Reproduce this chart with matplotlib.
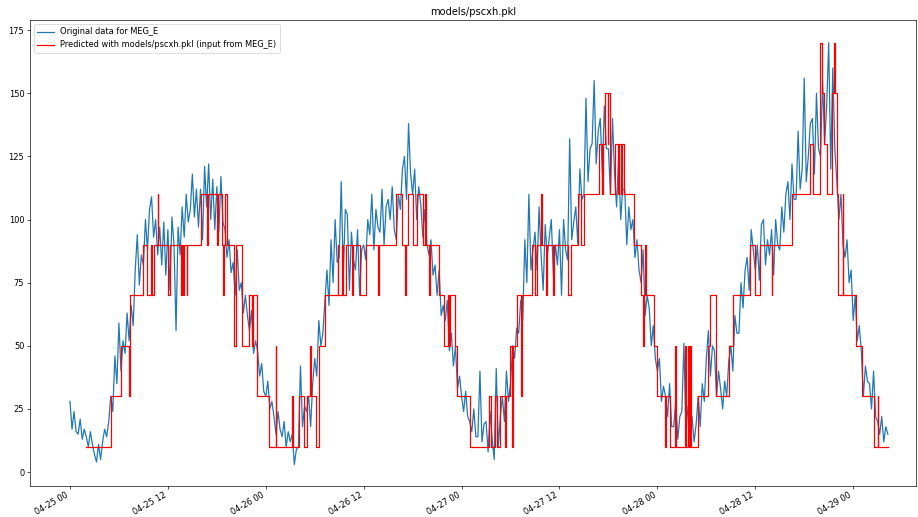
import pandas as pd
import matplotlib
matplotlib.use("Agg")
import matplotlib.pyplot as plt
import matplotlib.dates as mdates

start = pd.Timestamp("2021-04-25 00:00")

# Original data, one value every 15 minutes from 04-25 00:00
original = [
    28, 17, 24, 16, 15, 21, 13, 17, 14, 10, 16, 11, 7, 4, 11, 5,
    12, 17, 14, 20, 30, 24, 46, 35, 59, 40, 52, 47, 63, 52, 66, 58,
    80, 94, 74, 86, 82, 100, 88, 104, 109, 93, 100, 86, 97, 82, 99, 78,
    96, 72, 101, 90, 56, 97, 86, 105, 93, 110, 99, 104, 118, 101, 112, 97,
    112, 92, 121, 105, 122, 100, 116, 96, 113, 95, 117, 99, 96, 85, 92, 79,
    83, 70, 88, 72, 75, 63, 70, 62, 56, 64, 47, 52, 48, 38, 43, 32,
    30, 36, 25, 28, 22, 15, 24, 17, 14, 20, 10, 16, 12, 15, 3, 9,
    10, 42, 18, 26, 24, 30, 18, 35, 45, 38, 60, 50, 55, 68, 80, 66,
    92, 75, 100, 83, 85, 115, 78, 104, 102, 72, 95, 84, 80, 96, 70, 88,
    90, 84, 100, 94, 110, 88, 104, 97, 95, 112, 90, 105, 108, 100, 113, 96,
    92, 110, 104, 120, 125, 108, 138, 118, 110, 120, 100, 113, 106, 93, 104, 90,
    86, 92, 78, 82, 70, 80, 62, 66, 60, 68, 48, 55, 42, 50, 33, 38,
    30, 24, 32, 22, 20, 16, 25, 14, 14, 40, 12, 19, 20, 8, 24, 13,
    5, 41, 10, 22, 30, 20, 40, 28, 35, 50, 45, 57, 55, 68, 60, 92,
    75, 110, 80, 88, 95, 80, 105, 86, 72, 98, 85, 93, 100, 78, 90, 82,
    96, 70, 100, 88, 84, 132, 92, 99, 105, 90, 120, 108, 110, 148, 115, 128,
    130, 155, 122, 135, 140, 118, 145, 128, 128, 110, 140, 118, 105, 125, 100, 112,
    112, 90, 105, 96, 100, 85, 92, 80, 75, 88, 62, 70, 65, 50, 58, 45,
    40, 45, 28, 34, 30, 22, 35, 18, 18, 28, 13, 22, 24, 51, 16, 26,
    14, 22, 12, 19, 30, 18, 35, 28, 45, 56, 38, 50, 48, 30, 40, 33,
    25, 36, 30, 44, 50, 40, 62, 55, 55, 75, 65, 80, 85, 72, 96, 88,
    80, 90, 76, 98, 100, 82, 92, 86, 96, 78, 100, 90, 88, 105, 95, 110,
    115, 100, 122, 108, 108, 135, 112, 120, 156, 115, 125, 138, 140, 118, 150, 128,
    125, 155, 130, 145, 170, 120, 160, 128, 115, 100, 110, 90, 85, 92, 75, 80,
    60, 70, 52, 58, 48, 30, 42, 36, 35, 25, 40, 22, 20, 15, 22, 12,
    18, 15,
]

# Predicted levels: hour (from 04-25 00:00) where each level starts
pred_hours = [
    2.0, 5.0, 6.2, 7.2, 7.3, 8.9, 9.5, 9.9, 10.1, 10.3, 10.75, 10.85, 12.0, 12.3,
    13.6, 13.7, 13.9, 14.0, 14.3, 14.4, 16.1, 16.8, 16.9, 18.0, 18.1, 18.6, 18.8,
    18.9, 19.0, 19.3, 20.1, 20.4, 21.1, 22.0, 22.3, 22.4, 22.9, 24.4, 25.2, 25.3,
    27.2, 27.3, 28.1, 28.7, 29.0, 29.45, 29.55, 30.2, 30.5, 31.3, 32.8, 32.9, 33.3,
    33.5, 33.8, 34.6, 34.7, 35.6, 36.3, 37.8, 37.9, 40.0, 40.7, 41.1, 41.2, 41.4,
    42.1, 42.5, 43.3, 43.5, 43.7, 44.0, 44.1, 45.2, 45.9, 46.3, 46.4, 46.6, 47.2,
    47.5, 49.0, 51.3, 51.6, 52.1, 52.3, 52.7, 53.3, 53.4, 53.9, 54.2, 54.3, 54.8,
    55.3, 55.4, 56.6, 57.0, 57.2, 57.7, 57.8, 58.3, 58.5, 59.2, 59.3, 61.0, 61.4,
    62.3, 62.6, 63.0, 64.8, 65.25, 65.35, 65.6, 65.9, 66.0, 66.2, 66.8, 67.2, 67.3,
    67.6, 67.7, 67.9, 69.1, 69.95, 70.2, 70.3, 70.5, 70.6, 71.6, 72.0, 72.9, 73.1,
    73.5, 74.2, 74.3, 75.4, 75.5, 75.8, 75.9, 76.0, 76.1, 77.0, 78.2, 78.5, 79.2,
    80.8, 81.3, 83.4, 84.0, 84.6, 86.0, 86.1, 88.5, 90.7, 91.1, 91.9, 92.2, 92.4,
    92.8, 93.4, 93.65, 93.75, 94.0, 94.1, 94.7, 94.8, 96.3, 97.1, 98.5, 99.0, 99.1,
    100.25,
]
pred_levels = [
    10, 30, 50, 30, 70, 90, 70, 90, 70, 90, 110, 90, 70, 90,
    70, 90, 70, 90, 70, 90, 110, 90, 110, 90, 110, 90, 70,
    90, 110, 90, 50, 90, 50, 70, 50, 70, 30, 10, 50, 10,
    30, 10, 30, 10, 30, 50, 30, 10, 50, 70, 90, 70, 90,
    70, 90, 70, 90, 70, 90, 70, 90, 110, 90, 70, 90, 110,
    90, 110, 90, 110, 90, 70, 90, 70, 50, 70, 50, 70, 50,
    30, 10, 30, 10, 30, 10, 30, 10, 30, 50, 10, 50, 70,
    30, 70, 90, 70, 90, 110, 90, 70, 90, 70, 90, 70, 90,
    110, 90, 110, 130, 110, 130, 150, 130, 150, 110, 130, 110, 130,
    110, 130, 110, 90, 70, 50, 70, 90, 70, 50, 30, 10, 30,
    10, 50, 10, 50, 10, 50, 10, 50, 10, 30, 50, 70, 30,
    50, 70, 90, 70, 90, 70, 90, 110, 130, 110, 170, 150, 130,
    110, 150, 170, 150, 110, 70, 110, 70, 50, 30, 10, 30, 10,
    10,
]

times = pd.date_range(start, periods=len(original), freq="15min")
pred_times = [start + pd.Timedelta(hours=h) for h in pred_hours]

# the reference looks like a default-style figure shrunk to 918x517
fig = plt.figure(figsize=(918 / 59, 517 / 59), dpi=59)
ax = fig.add_axes([30 / 918, 31 / 517, 886 / 918, 466 / 517])

ax.plot(times, original, color="#1f77b4", label="Original data for MEG_E")
ax.plot(pred_times, pred_levels, color="red", drawstyle="steps-post",
        label="Predicted with models/pscxh.pkl (input from MEG_E)")

ax.set_xlim(start - pd.Timedelta(hours=4.9), start + pd.Timedelta(hours=103.7))
ax.set_ylim(-5.5, 179)
ax.set_yticks([0, 25, 50, 75, 100, 125, 150, 175])
ax.xaxis.set_major_locator(mdates.HourLocator(byhour=[0, 12]))
ax.xaxis.set_major_formatter(mdates.DateFormatter("%m-%d %H"))
for lbl in ax.get_xticklabels():
    lbl.set_rotation(30)
    lbl.set_ha("right")
ax.tick_params(axis="x", pad=2)
ax.set_title("models/pscxh.pkl")
ax.legend(loc="upper left")

fig.savefig("out.png", dpi=59)
